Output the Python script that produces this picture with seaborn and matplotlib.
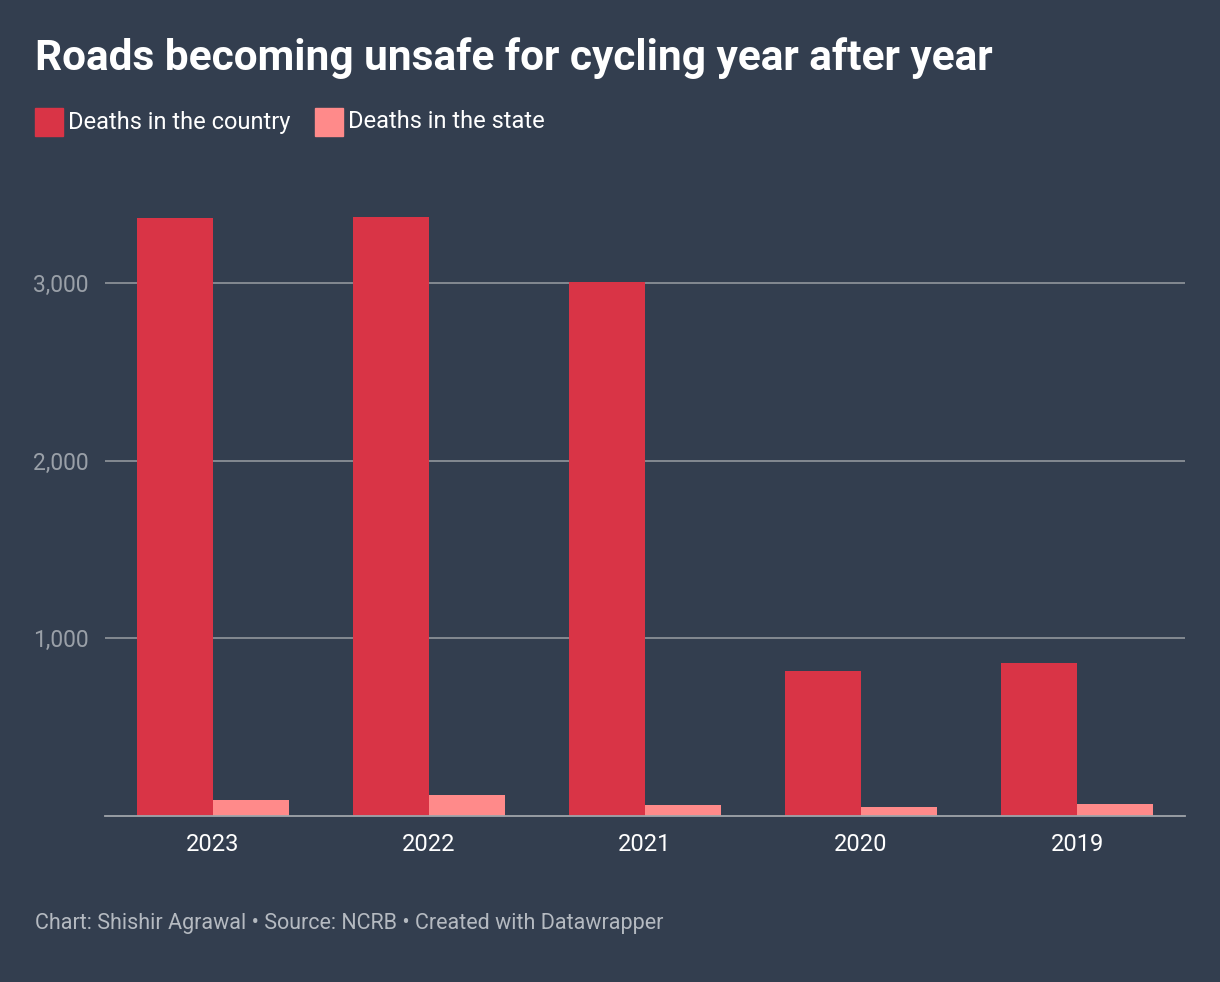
import pandas as pd
import seaborn as sns
import matplotlib.pyplot as plt
from matplotlib.patches import Rectangle

# Data
years = ["2023", "2022", "2021", "2020", "2019"]
country_deaths = [3366, 3371, 3005, 816, 861]
state_deaths = [90, 118, 62, 51, 68]
series = ["Deaths in the country", "Deaths in the state"]
colors = ["#d93446", "#ff8a8a"]

bg = "#333e4f"
sns.set_theme(style="white")
plt.rcParams["font.family"] = ["Roboto", "DejaVu Sans"]

df = pd.DataFrame({
    "year": years * 2,
    "deaths": country_deaths + state_deaths,
    "series": [series[0]] * 5 + [series[1]] * 5,
})

fig = plt.figure(figsize=(12.2, 9.82), dpi=100, facecolor=bg)
ax = fig.add_axes([105 / 1220, 1 - 816 / 982, 1080 / 1220, (816 - 190) / 982])
ax.set_facecolor(bg)

sns.barplot(data=df, x="year", y="deaths", hue="series", palette=colors,
            width=0.704, gap=0, ax=ax, legend=False, saturation=1, linewidth=0)

ax.set_xlim(-0.5, 4.5)
ax.set_ylim(0, 3523)
ax.set_yticks([1000, 2000, 3000])
ax.set_yticklabels(["1,000", "2,000", "3,000"])
ax.yaxis.grid(True, color="#8a8f96", linewidth=1.3)
ax.set_axisbelow(True)
ax.set_xlabel("")
ax.set_ylabel("")
for s in ["top", "right", "left"]:
    ax.spines[s].set_visible(False)
ax.spines["bottom"].set_color("#a0a4aa")
ax.spines["bottom"].set_linewidth(1.3)
ax.tick_params(axis="y", length=0, labelsize=16.5, labelcolor="#9aa0a8", pad=12)
ax.tick_params(axis="x", length=0, labelsize=17, labelcolor="#ffffff", pad=12)

# Title
fig.text(35 / 1220, 1 - 58 / 982, "Roads becoming unsafe for cycling year after year",
         fontsize=30.5, fontweight="bold", color="white", va="center", ha="left")

# Legend
lx = [35, 315]
for x, label, c in zip(lx, series, colors):
    fig.patches.append(Rectangle((x / 1220, 1 - 136 / 982), 28 / 1220, 28 / 982,
                                 transform=fig.transFigure, color=c, figure=fig))
    fig.text((x + 33) / 1220, 1 - 122 / 982, label, fontsize=17, color="white",
             va="center", ha="left")

# Footer
fig.text(35 / 1220, 1 - 924 / 982,
         "Chart: Shishir Agrawal \u2022 Source: NCRB \u2022 Created with Datawrapper",
         fontsize=15.5, color="#b5bac1", va="center", ha="left")

fig.savefig("out.png", dpi=100, facecolor=bg)
